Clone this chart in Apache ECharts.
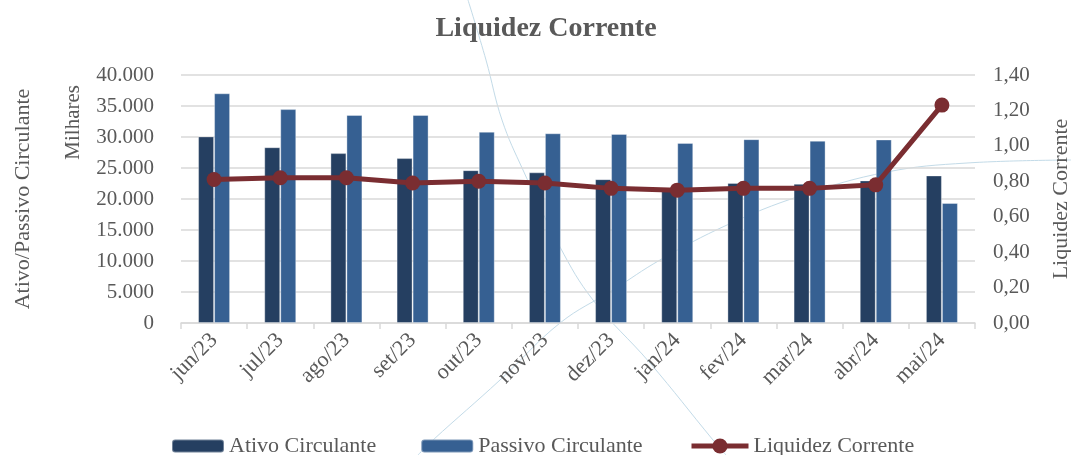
<!DOCTYPE html>
<html>
<head>
<meta charset="utf-8">
<script src="https://cdn.jsdelivr.net/npm/echarts@6/dist/echarts.min.js"></script>
<style>
html,body{margin:0;padding:0;background:#fff;}
#c{width:1071px;height:455px;}
</style>
</head>
<body>
<div id="c"></div>
<script>
const categories = ['jun/23','jul/23','ago/23','set/23','out/23','nov/23','dez/23','jan/24','fev/24','mar/24','abr/24','mai/24'];
const ativoCirculante = [30100, 28350, 27400, 26600, 24650, 24300, 23200, 21850, 22600, 22450, 23000, 23800];
const passivoCirculante = [37050, 34500, 33550, 33550, 30850, 30600, 30500, 29050, 29650, 29400, 29600, 19350];
const liquidezCorrente = [0.81, 0.82, 0.82, 0.79, 0.80, 0.79, 0.76, 0.75, 0.76, 0.76, 0.78, 1.23];

const FONT = '"Liberation Serif", "DejaVu Serif", serif';
const TXT = '#595959';
const LINE = '#7a2d31';
const chart = echarts.init(document.getElementById('c'), null, {renderer: 'canvas'});

chart.setOption({
  animation: false,
  backgroundColor: '#ffffff',
  textStyle: {fontFamily: FONT, color: TXT},
  title: {
    text: 'Liquidez Corrente',
    left: 541, top: 10, textAlign: 'center',
    textStyle: {fontFamily: FONT, fontSize: 28, fontWeight: 'bold', color: TXT}
  },
  grid: {left: 181, right: 96, top: 75, bottom: 132, containLabel: false, outerBoundsMode: 'none'},
  legend: [
    {
      left: 166, top: 430,
      itemWidth: 52, itemHeight: 13, itemGap: 44,
      textStyle: {fontFamily: FONT, fontSize: 22, color: TXT},
      data: ['Ativo Circulante', 'Passivo Circulante']
    },
    {
      left: 684, top: 430,
      itemWidth: 57, itemHeight: 19,
      textStyle: {fontFamily: FONT, fontSize: 22, color: TXT},
      data: [{name: 'Liquidez Corrente', lineStyle: {width: 5, color: LINE}, itemStyle: {color: LINE}}]
    }
  ],
  graphic: [
    {type: 'polyline', z: -1, silent: true,
      shape: {points: [[468,0],[486,60],[502,120],[523,170],[560,247],[593,300],[650,363],[713,440],[726,455]], smooth: 0.4},
      style: {stroke: '#c3dbe8', lineWidth: 1, fill: null}},
    {type: 'polyline', z: -1, silent: true,
      shape: {points: [[418,455],[433,440],[500,380],[560,323],[613,290],[660,260],[727,225],[800,196],[887,172],[967,163],[1071,160]], smooth: 0.4},
      style: {stroke: '#c3dbe8', lineWidth: 1, fill: null}},
    {type: 'text', left: 63, top: 85, rotation: Math.PI / 2, silent: true,
      style: {text: 'Milhares', font: '21px ' + FONT, fill: TXT}}
  ],
  xAxis: {
    type: 'category',
    data: categories,
    boundaryGap: true,
    axisLine: {lineStyle: {color: '#d9d9d9', width: 1.5}},
    axisTick: {show: true, length: 6, lineStyle: {color: '#d9d9d9', width: 1.5}},
    axisLabel: {rotate: 45, margin: 14, fontFamily: FONT, fontSize: 22, color: TXT, interval: 0}
  },
  yAxis: [
    {
      type: 'value', min: 0, max: 40000, interval: 5000,
      name: 'Ativo/Passivo Circulante', nameLocation: 'middle', nameRotate: 90, nameGap: 147,
      nameTextStyle: {fontFamily: FONT, fontSize: 22, color: TXT},
      axisLine: {show: false}, axisTick: {show: false},
      splitLine: {lineStyle: {color: '#d9d9d9', width: 1.5}},
      axisLabel: {margin: 27, fontFamily: FONT, fontSize: 21, color: TXT,
        formatter: v => v === 0 ? '0' : v.toLocaleString('de-DE')}
    },
    {
      type: 'value', min: 0, max: 1.4, interval: 0.2, position: 'right',
      name: 'Liquidez Corrente', nameLocation: 'middle', nameRotate: 90, nameGap: 75,
      nameTextStyle: {fontFamily: FONT, fontSize: 22, color: TXT},
      axisLine: {show: false}, axisTick: {show: false},
      splitLine: {show: false},
      axisLabel: {margin: 18, fontFamily: FONT, fontSize: 21, color: TXT,
        formatter: v => v.toFixed(2).replace('.', ',')}
    }
  ],
  series: [
    {name: 'Ativo Circulante', type: 'bar', data: ativoCirculante, barWidth: 16, barGap: '0%',
      itemStyle: {color: '#253f61', borderColor: 'rgba(255,255,255,0.35)', borderWidth: 1}},
    {name: 'Passivo Circulante', type: 'bar', data: passivoCirculante, barWidth: 16, barGap: '0%',
      itemStyle: {color: '#366092', borderColor: 'rgba(255,255,255,0.35)', borderWidth: 1}},
    {name: 'Liquidez Corrente', type: 'line', yAxisIndex: 1, data: liquidezCorrente,
      symbol: 'circle', symbolSize: 15, z: 5,
      lineStyle: {color: LINE, width: 5},
      itemStyle: {color: LINE}}
  ]
});
</script>
</body>
</html>
